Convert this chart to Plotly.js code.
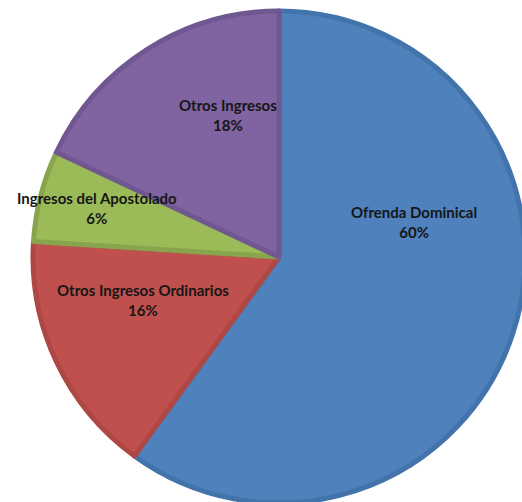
<!DOCTYPE html>
<html>
<head>
<meta charset="utf-8">
<script src="https://cdn.plot.ly/plotly-3.0.1.min.js"></script>
<style>
html,body{margin:0;padding:0;background:#fff;overflow:hidden;width:522px;height:502px;}
#chart{width:540px;height:520px;}
</style>
</head>
<body>
<div id="chart"></div>
<script>
const categories = ["Ofrenda Dominical", "Otros Ingresos Ordinarios", "Ingresos del Apostolado", "Otros Ingresos"];
const values = [60, 16, 6, 18];
const percentLabels = ["60%", "16%", "6%", "18%"];
const fillColors = ["#4F81BD", "#C0504D", "#9BBB59", "#8064A2"];
const borderColors = ["#4373AB", "#AD4845", "#88A54D", "#715791"];

// layout / label placement (not data)
const W = 540, H = 520;
const CX = 279, CY = 257, R = 246;
const labelRadius = [0.565, 0.58, 0.766, 0.613];
const labelAngleShift = [-32.5, 7.7, 0.7, 12.6];

const total = values.reduce((a, b) => a + b, 0);
let cum = 0;
const annotations = values.map((v, i) => {
  const mid = (cum + v / 2) / total;
  cum += v;
  const th = (mid * 360 + labelAngleShift[i]) * Math.PI / 180;
  const px = CX + R * labelRadius[i] * Math.sin(th);
  const py = CY - R * labelRadius[i] * Math.cos(th);
  return {
    x: px / W, y: 1 - py / H, xref: "paper", yref: "paper",
    xanchor: "center", yanchor: "middle", showarrow: false,
    text: "<b>" + categories[i] + "</b><br><b>" + percentLabels[i] + "</b>",
    font: {family: "Lato, 'Open Sans', sans-serif", size: 15, color: "#161616"},
    align: "center"
  };
});

const trace = {
  type: "pie",
  labels: categories,
  values: values,
  sort: false,
  direction: "clockwise",
  rotation: 0,
  textinfo: "none",
  hoverinfo: "none",
  marker: {colors: fillColors, line: {color: borderColors, width: 5}},
  domain: {x: [(CX - R) / W, (CX + R) / W], y: [1 - (CY + R) / H, 1 - (CY - R) / H]}
};

Plotly.newPlot("chart", [trace], {
  width: W, height: H,
  margin: {l: 0, r: 0, t: 0, b: 0},
  showlegend: false,
  paper_bgcolor: "#fff",
  annotations: annotations
}, {displayModeBar: false, staticPlot: true});
</script>
</body>
</html>
